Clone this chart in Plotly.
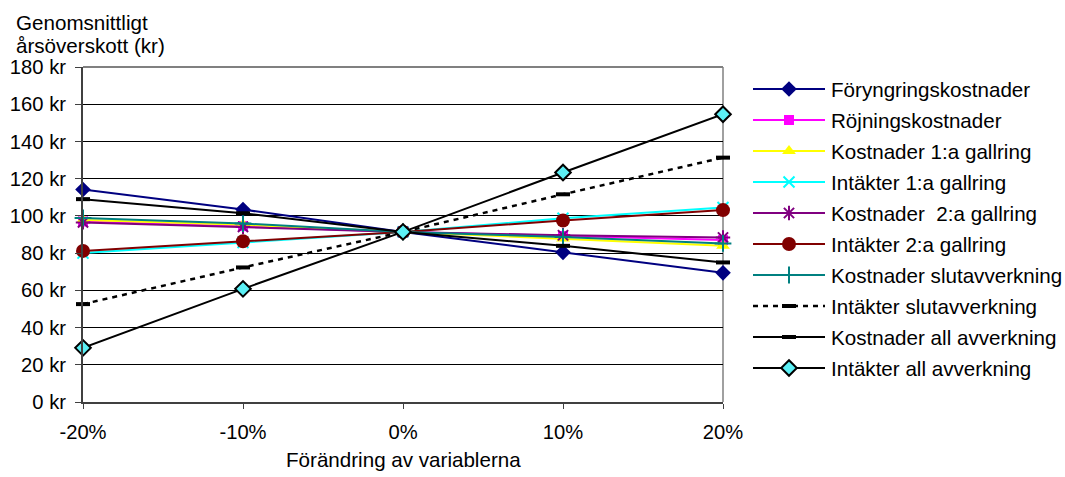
import plotly.graph_objects as go

# ---------------- data ----------------
x_vals = [-20, -10, 0, 10, 20]
x_labels = ["-20%", "-10%", "0%", "10%", "20%"]

foryngring = [114.2, 103.4, 91.4, 80.4, 69.4]
rojning = [97.0, 94.5, 91.4, 89.2, 87.0]
kost1 = [97.8, 95.2, 91.4, 87.8, 84.0]
int1 = [80.0, 85.7, 91.4, 98.7, 104.5]
kost2 = [96.5, 94.1, 91.4, 89.6, 88.4]
int2 = [81.2, 86.4, 91.4, 97.5, 103.1]
kostslut = [98.9, 95.9, 91.4, 88.7, 85.2]
intslut = [52.6, 72.3, 91.4, 111.6, 131.3]
kostall = [109.0, 101.4, 91.4, 83.9, 75.0]
intall = [29.1, 60.8, 91.4, 123.3, 154.6]

series_names = [
    "Föryngringskostnader", "Röjningskostnader", "Kostnader 1:a gallring",
    "Intäkter 1:a gallring", "Kostnader  2:a gallring", "Intäkter 2:a gallring",
    "Kostnader slutavverkning", "Intäkter slutavverkning",
    "Kostnader all avverkning", "Intäkter all avverkning",
]
series_values = [foryngring, rojning, kost1, int1, kost2, int2,
                 kostslut, intslut, kostall, intall]

y_tickvals = [0, 20, 40, 60, 80, 100, 120, 140, 160, 180]
y_ticktext = [f"{v} kr" for v in y_tickvals]

# ---------------- styles ----------------
styles = [
    dict(line=dict(color="#000080", width=2),
         marker=dict(symbol="diamond", size=12, color="#000080")),
    dict(line=dict(color="#FF00FF", width=2),
         marker=dict(symbol="square", size=10, color="#FF00FF")),
    dict(line=dict(color="#FFFF00", width=2),
         marker=dict(symbol="triangle-up", size=12, color="#FFFF00")),
    dict(line=dict(color="#00FFFF", width=2),
         marker=dict(symbol="x-thin-open", size=11, color="#00FFFF",
                     line=dict(color="#00FFFF", width=2))),
    dict(line=dict(color="#800080", width=2),
         marker=dict(symbol="asterisk-open", size=12, color="#800080",
                     line=dict(color="#800080", width=2))),
    dict(line=dict(color="#800000", width=2),
         marker=dict(symbol="circle", size=14, color="#800000")),
    dict(line=dict(color="#008080", width=2),
         marker=dict(symbol="cross-thin-open", size=12, color="#008080",
                     line=dict(color="#008080", width=2))),
    dict(line=dict(color="#000000", width=2.5, dash="5px,5px"),
         marker=dict(symbol="line-ew-open", size=10, color="#000000",
                     line=dict(color="#000000", width=4))),
    dict(line=dict(color="#000000", width=2),
         marker=dict(symbol="line-ew-open", size=10, color="#000000",
                     line=dict(color="#000000", width=4))),
    dict(line=dict(color="#000000", width=2),
         marker=dict(symbol="diamond", size=12, color="#5CF0F5",
                     line=dict(color="#000000", width=2))),
]

W, H = 1065, 477
FONT = "Arial, Liberation Sans, sans-serif"
FS = 20.6
TFS = 20.2
plot_l, plot_r, plot_t, plot_b = 83, 723, 67, 402

fig = go.Figure()

for name, vals, st in zip(series_names, series_values, styles):
    fig.add_trace(go.Scatter(
        x=x_vals, y=vals, name=name, mode="lines+markers",
        line=st["line"], marker=st["marker"], showlegend=False,
        xaxis="x", yaxis="y", cliponaxis=False,
    ))

# ---------------- custom legend (pixel axis) ----------------
leg_y0, leg_step = 89, 31
leg_x0, leg_x1, leg_text_x = 753, 825, 829
annotations = []
for i, (name, st) in enumerate(zip(series_names, styles)):
    yy = leg_y0 + i * leg_step
    fig.add_trace(go.Scatter(
        x=[leg_x0, leg_x1], y=[yy, yy], mode="lines", line=st["line"],
        showlegend=False, xaxis="x2", yaxis="y2", hoverinfo="skip",
    ))
    fig.add_trace(go.Scatter(
        x=[(leg_x0 + leg_x1) / 2], y=[yy], mode="markers", marker=st["marker"],
        showlegend=False, xaxis="x2", yaxis="y2", hoverinfo="skip",
    ))
    annotations.append(dict(
        x=leg_text_x, y=yy, xref="x2", yref="y2", text=name, showarrow=False,
        xanchor="left", yanchor="middle", font=dict(size=FS, color="#000000"),
    ))

# axis titles
annotations.append(dict(x=14, y=22, xref="x2", yref="y2", text="Genomsnittligt",
                        showarrow=False, xanchor="left", yanchor="middle",
                        font=dict(size=FS, color="#000000")))
annotations.append(dict(x=14, y=45, xref="x2", yref="y2", text="årsöverskott (kr)",
                        showarrow=False, xanchor="left", yanchor="middle",
                        font=dict(size=FS, color="#000000")))
annotations.append(dict(x=403, y=459, xref="x2", yref="y2",
                        text="Förändring av variablerna",
                        showarrow=False, xanchor="center", yanchor="middle",
                        font=dict(size=FS, color="#000000")))

fig.update_layout(
    template="none",
    width=W, height=H,
    autosize=False,
    margin=dict(l=0, r=0, t=0, b=0, pad=0),
    paper_bgcolor="white", plot_bgcolor="rgba(0,0,0,0)",
    font=dict(family=FONT, size=FS, color="#000000"),
    showlegend=False,
    xaxis=dict(
        domain=[plot_l / W, plot_r / W], range=[-20, 20],
        tickvals=x_vals, ticktext=x_labels, automargin=False,
        showgrid=False, zeroline=False,
        showline=True, linecolor="#404040", linewidth=2,
        ticks="outside", ticklen=5, tickcolor="#404040", tickwidth=1,
        ticklabelstandoff=6, fixedrange=True,
        tickfont=dict(size=TFS, color="#000000"),
    ),
    yaxis=dict(
        domain=[(H - plot_b) / H, (H - plot_t) / H], range=[0, 180],
        tickvals=y_tickvals, ticktext=y_ticktext, automargin=False,
        showgrid=True, gridcolor="#000000", gridwidth=1,
        zeroline=False,
        showline=True, linecolor="#404040", linewidth=2,
        ticks="outside", ticklen=6, tickcolor="#404040", tickwidth=1,
        ticklabelstandoff=5, fixedrange=True,
        tickfont=dict(size=TFS, color="#000000"),
    ),
    xaxis2=dict(domain=[0, 1], range=[0, W], visible=False, fixedrange=True,
                anchor="y2", automargin=False),
    yaxis2=dict(domain=[0, 1], range=[H, 0], visible=False, fixedrange=True,
                anchor="x2", automargin=False),
    annotations=annotations,
    shapes=[
        dict(type="line", xref="x domain", yref="y domain", x0=0, x1=1, y0=1, y1=1,
             line=dict(color="#808080", width=2), layer="above"),
        dict(type="line", xref="x domain", yref="y domain", x0=1, x1=1, y0=0, y1=1,
             line=dict(color="#A0A0A0", width=2), layer="below"),
    ],
)

fig.write_html("out.html")
